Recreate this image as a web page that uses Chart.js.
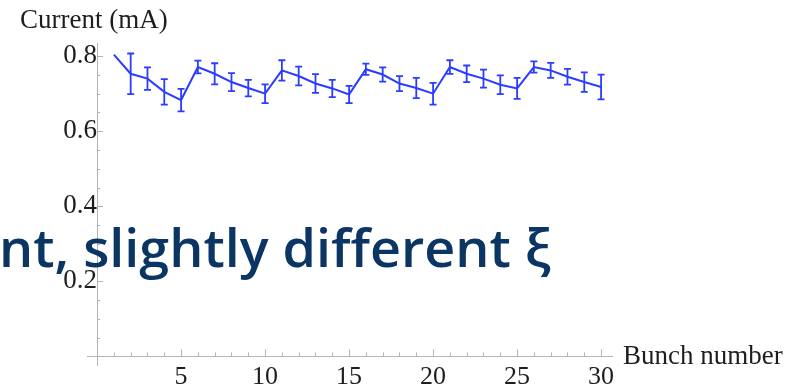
<!DOCTYPE html>
<html>
<head>
<meta charset="utf-8">
<script src="https://cdn.jsdelivr.net/npm/chart.js@4.4.1/dist/chart.umd.min.js"></script>
<style>
  html, body { margin: 0; padding: 0; background: #ffffff; }
  #wrap { width: 808px; height: 390px; position: relative; }
</style>
</head>
<body>
<div id="wrap"><canvas id="c" width="808" height="390"></canvas></div>
<script>
// Bunch-by-bunch current with measurement error
const bunches = [1,2,3,4,5,6,7,8,9,10,11,12,13,14,15,16,17,18,19,20,21,22,23,24,25,26,27,28,29,30];
const currentMA = [0.804,0.753,0.740,0.705,0.683,0.771,0.753,0.731,0.715,0.700,
                   0.762,0.747,0.727,0.714,0.698,0.765,0.751,0.727,0.715,0.700,
                   0.771,0.753,0.740,0.724,0.714,0.771,0.762,0.745,0.731,0.718];
const errorMA = [0.000,0.054,0.030,0.034,0.030,0.017,0.028,0.024,0.022,0.025,
                 0.027,0.025,0.025,0.023,0.023,0.015,0.019,0.020,0.027,0.029,
                 0.018,0.022,0.024,0.025,0.028,0.015,0.020,0.021,0.026,0.033];
const xTickLabels = [5, 10, 15, 20, 25, 30];
const yTickLabels = [0.2, 0.4, 0.6, 0.8];
const xAxisTitle = 'Bunch number';
const yAxisTitle = 'Current (mA)';
const overlayText = 'nt, slightly different \u03BE';

const LINE_BLUE = '#2b3dff';
const AXIS_GREY = '#b4b4b4';
const TEXT_DARK = '#1e1e1e';
const SERIF = '"Liberation Serif", "Times New Roman", serif';

// Inward tick marks (major + minor), error bars, axis titles and the overlay caption
const decorations = {
  id: 'decorations',
  beforeDatasetsDraw(chart) {
    const { ctx, scales: { x, y } } = chart;
    const x0 = x.getPixelForValue(0);
    const y0 = y.getPixelForValue(0);
    ctx.save();
    ctx.strokeStyle = AXIS_GREY;
    ctx.lineWidth = 1;
    ctx.beginPath();
    for (let v = 1; v <= 30; v++) {
      const px = Math.round(x.getPixelForValue(v)) + 0.5;
      const len = (v % 5 === 0) ? 7 : 4;
      ctx.moveTo(px, y0);
      ctx.lineTo(px, y0 - len);
    }
    for (let k = 1; k <= 16; k++) {
      const v = k * 0.05;
      const py = Math.round(y.getPixelForValue(v)) + 0.5;
      const len = (k % 4 === 0) ? 6 : 3;
      ctx.moveTo(x0, py);
      ctx.lineTo(x0 + len, py);
    }
    ctx.stroke();
    ctx.restore();
  },
  afterDatasetsDraw(chart) {
    const { ctx, scales: { x, y } } = chart;
    ctx.save();
    ctx.strokeStyle = LINE_BLUE;
    ctx.lineWidth = 1.8;
    ctx.beginPath();
    bunches.forEach((b, i) => {
      const e = errorMA[i];
      if (!e) return;
      const px = x.getPixelForValue(b);
      const top = y.getPixelForValue(currentMA[i] + e);
      const bot = y.getPixelForValue(currentMA[i] - e);
      ctx.moveTo(px, top); ctx.lineTo(px, bot);
      ctx.moveTo(px - 3.5, top); ctx.lineTo(px + 3.5, top);
      ctx.moveTo(px - 3.5, bot); ctx.lineTo(px + 3.5, bot);
    });
    ctx.stroke();
    ctx.restore();
  },
  afterDraw(chart) {
    const { ctx, scales: { x, y } } = chart;
    ctx.save();
    // axis titles
    ctx.fillStyle = TEXT_DARK;
    ctx.font = '27px ' + SERIF;
    ctx.textBaseline = 'middle';
    ctx.textAlign = 'left';
    ctx.fillText(xAxisTitle, x.getPixelForValue(30) + 22, y.getPixelForValue(0));
    ctx.fillText(yAxisTitle, 20, 21);
    // caption laid over the plot
    ctx.font = '600 52px "Open Sans", sans-serif';
    ctx.fillStyle = '#0b3563';
    ctx.textBaseline = 'alphabetic';
    const w = ctx.measureText(overlayText).width;
    const target = 552;
    ctx.translate(-1, 267);
    ctx.scale(target / w, 1);
    ctx.fillText(overlayText, 0, 0);
    ctx.restore();
  }
};

new Chart(document.getElementById('c'), {
  type: 'line',
  data: {
    datasets: [{
      data: bunches.map((b, i) => ({ x: b, y: currentMA[i] })),
      borderColor: LINE_BLUE,
      borderWidth: 2,
      pointRadius: 0,
      tension: 0,
      fill: false
    }]
  },
  options: {
    responsive: false,
    animation: false,
    devicePixelRatio: 1,
    layout: { padding: { left: 87, right: 196, top: 43, bottom: 23 } },
    plugins: { legend: { display: false }, tooltip: { enabled: false }, title: { display: false } },
    scales: {
      x: {
        type: 'linear',
        min: -0.6,
        max: 30.65,
        position: { y: 0 },
        grid: { display: false, drawTicks: false },
        border: { display: true, color: AXIS_GREY, width: 1 },
        afterBuildTicks: (s) => { s.ticks = xTickLabels.map(v => ({ value: v })); },
        ticks: {
          autoSkip: false,
          maxRotation: 0,
          padding: 5,
          color: TEXT_DARK,
          font: { family: SERIF, size: 26 },
          callback: (v) => String(v)
        }
      },
      y: {
        type: 'linear',
        min: -0.025,
        max: 0.835,
        position: { x: 0 },
        grid: { display: false, drawTicks: false },
        border: { display: true, color: AXIS_GREY, width: 1 },
        afterBuildTicks: (s) => { s.ticks = yTickLabels.map(v => ({ value: v })); },
        ticks: {
          autoSkip: false,
          padding: 8,
          color: TEXT_DARK,
          font: { family: SERIF, size: 27 },
          callback: (v) => Number(v).toFixed(1)
        }
      }
    }
  },
  plugins: [decorations]
});
</script>
</body>
</html>
